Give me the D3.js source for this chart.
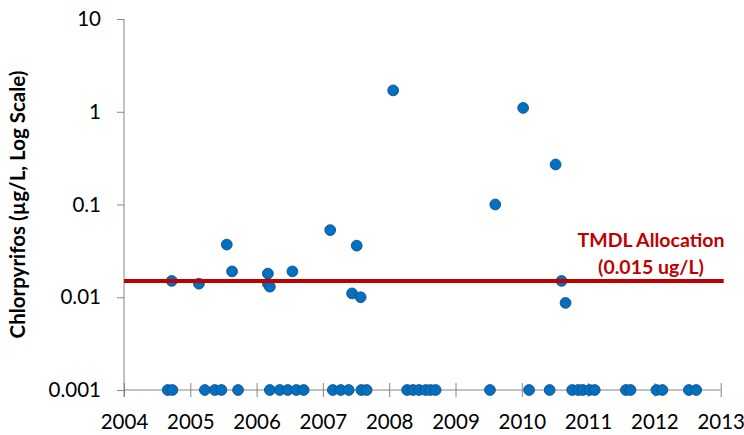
<!DOCTYPE html>
<html>
<head>
<meta charset="utf-8">
<script src="https://cdn.jsdelivr.net/npm/d3@7"></script>
<style>
  body { margin: 0; background: #fff; }
  text { font-family: Lato, "Open Sans", sans-serif; }
</style>
</head>
<body>
<div id="chart"></div>
<script>
// sample dates as decimal years, values in ug/L
var detectDates = [2004.72, 2005.13, 2005.55, 2005.63, 2006.17, 2006.17, 2006.20, 2006.54,
  2007.11, 2007.44, 2007.51, 2007.57, 2008.06, 2009.60, 2010.02, 2010.51, 2010.60, 2010.66];
var detectValues = [0.015, 0.014, 0.037, 0.019, 0.018, 0.014, 0.013, 0.019,
  0.053, 0.011, 0.036, 0.010, 1.7, 0.10, 1.1, 0.27, 0.015, 0.0087];

// non-detects plotted at the reporting limit
var nonDetectDates = [2004.66, 2004.73, 2005.22, 2005.37, 2005.47, 2005.72,
  2006.20, 2006.35, 2006.47, 2006.60, 2006.71, 2007.15, 2007.27, 2007.39, 2007.58, 2007.66,
  2008.27, 2008.36, 2008.45, 2008.55, 2008.62, 2008.70, 2009.52, 2010.11, 2010.42,
  2010.76, 2010.85, 2010.92, 2011.02, 2011.10, 2011.57, 2011.64, 2012.03, 2012.12,
  2012.52, 2012.63];
var nonDetectValue = 0.001;

var tmdlValue = 0.015;
var tmdlLabel = ['TMDL Allocation', '(0.015 ug/L)'];

var xTicks = [2004, 2005, 2006, 2007, 2008, 2009, 2010, 2011, 2012, 2013];
var yTicks = [0.001, 0.01, 0.1, 1, 10];
var yTickLabels = ['0.001', '0.01', '0.1', '1', '10'];
var yTitle = 'Chlorpyrifos (\u00b5g/L, Log Scale)';

var width = 744, height = 435;
var axisColor = '#868686';
var red = '#c00000';

var svg = d3.select('#chart').append('svg')
  .attr('width', width)
  .attr('height', height);

var x = d3.scaleLinear().domain([2004, 2013]).range([124, 720.7]);
var y = d3.scaleLog().domain([0.001, 10]).range([390, 19]);

// y axis
var yAxis = d3.axisLeft(y)
  .tickValues(yTicks)
  .tickFormat(function(d, i) { return yTickLabels[i]; })
  .tickSize(7)
  .tickPadding(16);
var gy = svg.append('g').attr('transform', 'translate(124,0)').call(yAxis);
gy.select('.domain').remove();
gy.selectAll('line').attr('stroke', axisColor);
gy.selectAll('text').attr('font-size', 20.5).attr('fill', '#000');

// x axis, ticks crossing the line
var xAxis = d3.axisBottom(x)
  .tickValues(xTicks)
  .tickFormat(d3.format('d'))
  .tickSize(7)
  .tickPadding(17);
var gx = svg.append('g').attr('transform', 'translate(0,390)').call(xAxis);
gx.select('.domain').remove();
gx.selectAll('line').attr('stroke', axisColor).attr('y1', -7).attr('y2', 7);
gx.selectAll('text').attr('font-size', 20.5).attr('fill', '#000');

svg.append('line')
  .attr('x1', x(2004)).attr('x2', x(2004))
  .attr('y1', y(10)).attr('y2', y(0.001) + 7)
  .attr('stroke', axisColor);
svg.append('line')
  .attr('x1', x(2004)).attr('x2', x(2013))
  .attr('y1', y(0.001)).attr('y2', y(0.001))
  .attr('stroke', axisColor);

// y title
svg.append('text')
  .attr('transform', 'translate(25,' + (y(10) + y(0.001)) / 2 + ') rotate(-90)')
  .attr('text-anchor', 'middle')
  .attr('font-size', 20.5)
  .attr('font-weight', 'bold')
  .attr('fill', '#000')
  .text(yTitle);

// points
var points = svg.append('g');
points.selectAll('circle.nd').data(nonDetectDates)
  .enter().append('circle')
  .attr('class', 'nd')
  .attr('cx', function(d) { return x(d); })
  .attr('cy', y(nonDetectValue))
  .attr('r', 5.4)
  .attr('fill', '#0070c0')
  .attr('stroke', '#1d4f86')
  .attr('stroke-width', 0.9);
points.selectAll('circle.det').data(detectDates)
  .enter().append('circle')
  .attr('class', 'det')
  .attr('cx', function(d) { return x(d); })
  .attr('cy', function(d, i) { return y(detectValues[i]); })
  .attr('r', 5.4)
  .attr('fill', '#0070c0')
  .attr('stroke', '#1d4f86')
  .attr('stroke-width', 0.9);

// TMDL line
svg.append('line')
  .attr('x1', x(2004)).attr('x2', x(2013) + 3)
  .attr('y1', y(tmdlValue)).attr('y2', y(tmdlValue))
  .attr('stroke', red)
  .attr('stroke-width', 4);

svg.append('text')
  .attr('x', 651)
  .attr('y', 247)
  .attr('text-anchor', 'middle')
  .attr('font-size', 19.5)
  .attr('font-weight', 'bold')
  .attr('fill', red)
  .selectAll('tspan').data(tmdlLabel)
  .enter().append('tspan')
  .attr('x', 651)
  .attr('dy', function(d, i) { return i ? 26.5 : 0; })
  .text(function(d) { return d; });
</script>
</body>
</html>
